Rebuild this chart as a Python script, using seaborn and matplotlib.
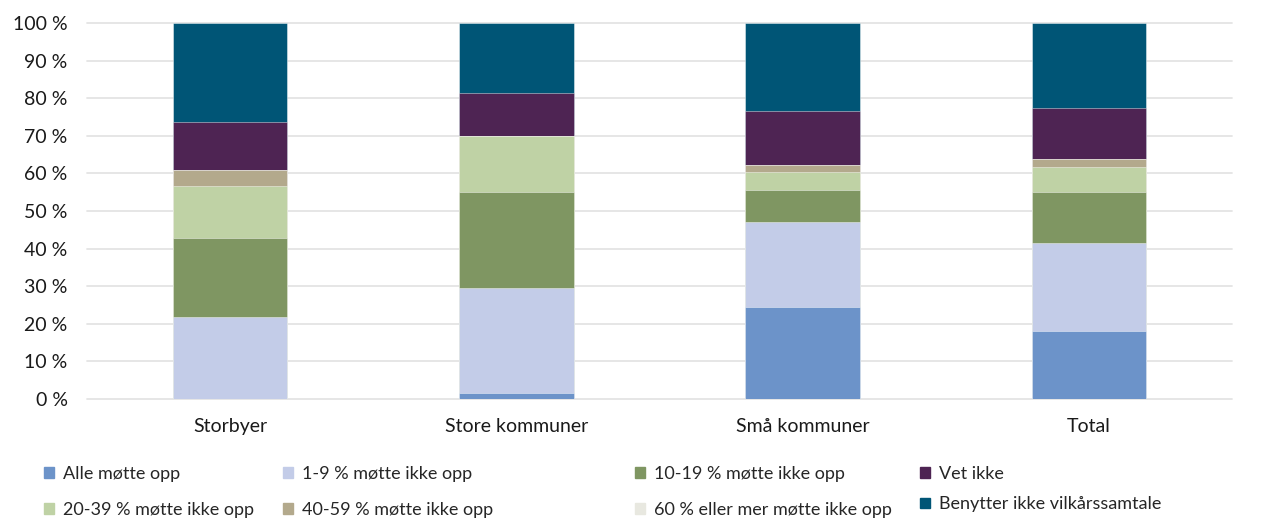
import numpy as np
import pandas as pd
import seaborn as sns
import matplotlib.pyplot as plt
from matplotlib.patches import Patch

# kategorier og serier (prosent)
categories = ["Storbyer", "Store kommuner", "Små kommuner", "Total"]
series_names = ["Alle møtte opp", "1-9 % møtte ikke opp", "10-19 % møtte ikke opp",
                "20-39 % møtte ikke opp", "40-59 % møtte ikke opp",
                "60 % eller mer møtte ikke opp", "Vet ikke", "Benytter ikke vilkårssamtale"]
alle = [0.0, 1.7, 24.5, 18.1]
p1_9 = [21.7, 27.9, 22.7, 23.5]
p10_19 = [21.2, 25.5, 8.5, 13.5]
p20_39 = [13.7, 14.9, 4.6, 6.6]
p40_59 = [4.3, 0.0, 2.0, 2.0]
p60 = [0.0, 0.0, 0.0, 0.0]
vet_ikke = [12.8, 11.5, 14.2, 13.6]
benytter = [26.3, 18.5, 23.5, 22.7]

colors = ["#6c93c9", "#c3cce8", "#7f9662", "#bfd2a5", "#b3a98c", "#e8e8e0", "#4e2453", "#005576"]

df = pd.DataFrame({"kategori": categories})
values = [alle, p1_9, p10_19, p20_39, p40_59, p60, vet_ikke, benytter]
cum = np.cumsum(np.array(values), axis=0)

sns.set_style("white")
plt.rcParams["font.family"] = ["Lato", "DejaVu Sans"]

fig = plt.figure(figsize=(12.66, 5.21), dpi=100)
ax = fig.add_axes([0.0687, 0.2342, 0.9045, 0.7217])

# tegn kumulative stolper bakfra (øverste serie først)
for i in range(len(values) - 1, -1, -1):
    df["y"] = cum[i]
    sns.barplot(data=df, x="kategori", y="y", color=colors[i], saturation=1,
                width=0.4, edgecolor=(1, 1, 1, 0.5), linewidth=0.6, ax=ax)

ax.set_ylim(0, 100)
ax.set_yticks(range(0, 101, 10))
ax.set_yticklabels([f"{v} %" for v in range(0, 101, 10)])
ax.yaxis.grid(True, color="#e4e4e4", linewidth=1.3)
ax.set_axisbelow(True)
for gl in ax.get_ygridlines():
    gl.set_clip_on(False)
sns.despine(ax=ax, left=True, right=True, top=True, bottom=True)
ax.set_xlabel("")
ax.set_ylabel("")
ax.tick_params(axis="y", length=0, pad=14, labelsize=14, colors="#1a1a1a")
ax.tick_params(axis="x", length=0, pad=14, labelsize=14, colors="#1a1a1a")

# forklaring i fire kolonner, plassert som i originalen
col_x = [44 / 1266, 283 / 1266, 635 / 1266, 920 / 1266]
order = [(0, 3), (1, 4), (2, 5), (6, 7)]
for k, (a, b) in enumerate(order):
    handles = [Patch(color=colors[a]), Patch(color=colors[b])]
    fig.legend(handles, [series_names[a], series_names[b]], loc="upper left",
               bbox_to_anchor=(col_x[k], 1 - 466 / 521), frameon=False, fontsize=13,
               handlelength=0.55, handleheight=0.55, handletextpad=0.5,
               labelspacing=1.1 if k < 3 else 0.8, borderaxespad=0, borderpad=0)

fig.savefig("out.png", dpi=100)
